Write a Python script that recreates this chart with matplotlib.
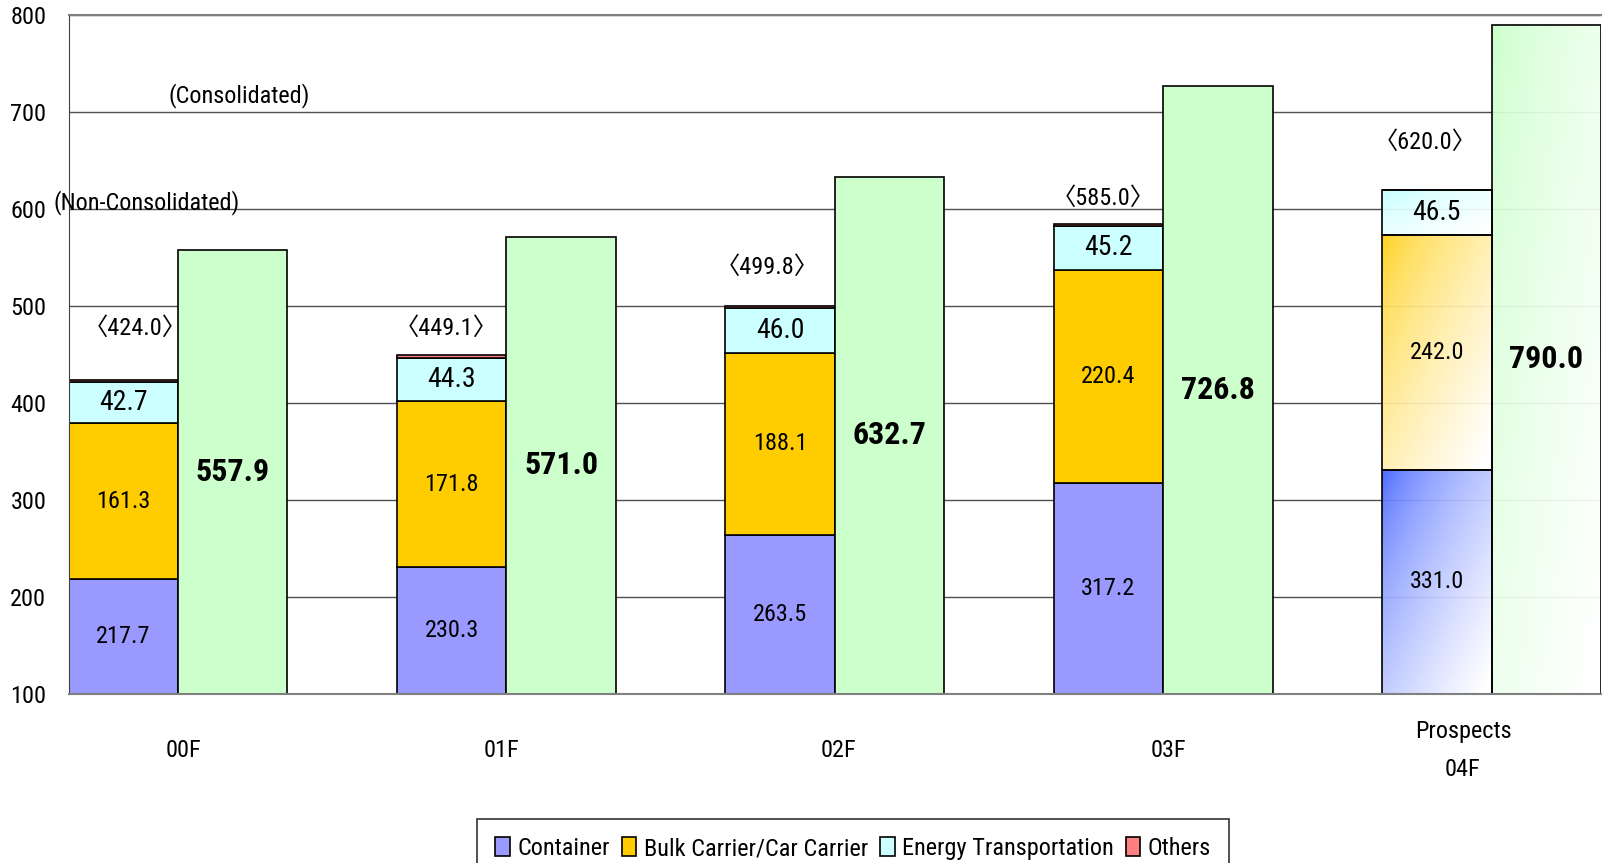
import matplotlib
matplotlib.use("Agg")
import matplotlib.pyplot as plt
import matplotlib.colors as mcolors
import numpy as np

plt.rcParams['font.family'] = ['Roboto Condensed', 'Liberation Sans', 'Noto Sans CJK JP', 'DejaVu Sans']

years = ["00F", "01F", "02F", "03F", "Prospects\n04F"]
container = [217.7, 230.3, 263.5, 317.2, 331.0]
bulk = [161.3, 171.8, 188.1, 220.4, 242.0]
energy = [42.7, 44.3, 46.0, 45.2, 46.5]
non_consol_total = [424.0, 449.1, 499.8, 585.0, 620.0]
consolidated = [557.9, 571.0, 632.7, 726.8, 790.0]
others = [t - (c + b + e) for t, c, b, e in zip(non_consol_total, container, bulk, energy)]

# nudges for the <total> labels and year labels (the original is a bit uneven)
total_lift = [53, 28, 40, 26, 49]
total_shift = [0.037, -0.016, -0.04, -0.016, -0.034]
year_shift = [0.016, -0.016, 0.012, 0.016, -0.087]

c_cont, c_bulk, c_energy, c_other, c_consol = '#9999FF', '#FFCC00', '#CCFFFF', '#FF8080', '#CCFFCC'
grad_cont, grad_bulk, grad_energy, grad_consol = '#3355FF', '#FFCC00', '#BBFFFF', '#C4FFC4'

ymin = 100
w = 1 / 3
x = np.arange(len(years))

W, H = 1604, 863
fig = plt.figure(figsize=(W / 100, H / 100), dpi=100)
ax = fig.add_axes([68.5 / W, 1 - 693.5 / H, (1601 - 68.5) / W, (693.5 - 15.3) / H])

ax.set_yticks(range(100, 801, 100))
ax.yaxis.grid(True, color='#505050', linewidth=1)
ax.set_axisbelow(True)

edge = dict(edgecolor='black', linewidth=1.2)
xs = x - w / 2
xc = x + w / 2
b1 = ax.bar(xs, container, w, color=c_cont, **edge)
bottom2 = np.array(container)
b2 = ax.bar(xs, bulk, w, bottom=bottom2, color=c_bulk, **edge)
bottom3 = bottom2 + np.array(bulk)
b3 = ax.bar(xs, energy, w, bottom=bottom3, color=c_energy, **edge)
bottom4 = bottom3 + np.array(energy)
b4 = ax.bar(xs, others, w, bottom=bottom4, color=c_other, **edge)
b5 = ax.bar(xc, consolidated, w, color=c_consol, **edge)


def gradient_fill(patch, color):
    # diagonal fade: coloured top-left -> white bottom-right
    x0, y0 = patch.get_x(), max(patch.get_y(), ymin)
    x1, y1 = x0 + patch.get_width(), patch.get_y() + patch.get_height()
    u = np.linspace(0, 1, 60)
    v = np.linspace(0, 1, 200)
    U, V = np.meshgrid(u, v)
    t = np.clip((U + (1 - V)) / 2 * 1.05, 0, 1) ** 0.6
    rgb = np.array(mcolors.to_rgb(color))
    img = rgb[None, None, :] * (1 - t[..., None]) + t[..., None]
    patch.set_facecolor('none')
    im = ax.imshow(img, extent=(x0, x1, y0, y1), origin='lower', aspect='auto',
                   zorder=patch.get_zorder() - 0.1, alpha=0.94)
    im.set_clip_path(patch)


last = len(years) - 1
gradient_fill(b1[last], grad_cont)
gradient_fill(b2[last], grad_bulk)
gradient_fill(b3[last], grad_energy)
gradient_fill(b5[last], grad_consol)
ax.set_xlim(-w, len(years) - 1 + w)
ax.set_ylim(ymin, 800)

for i in range(len(years)):
    ax.text(xs[i], (ymin + container[i]) / 2, f"{container[i]:.1f}", ha='center', va='center', fontsize=17.5)
    ax.text(xs[i], bottom2[i] + bulk[i] / 2, f"{bulk[i]:.1f}", ha='center', va='center', fontsize=17.5)
    ax.text(xs[i], bottom3[i] + energy[i] / 2, f"{energy[i]:.1f}", ha='center', va='center', fontsize=20)
    ax.text(xs[i] + total_shift[i], non_consol_total[i] + total_lift[i], f"〈{non_consol_total[i]:.1f}〉",
            ha='center', va='center', fontsize=17.5)
    ax.text(xc[i], (ymin + consolidated[i]) / 2, f"{consolidated[i]:.1f}", ha='center', va='center',
            fontsize=23, fontweight='bold')

ax.text(-0.028, 717, "(Consolidated)", ha='left', va='center', fontsize=17.5)
ax.text(-0.38, 607, "(Non-Consolidated)", ha='left', va='center', fontsize=17.5)

ax.set_xticks(x + np.array(year_shift))
ax.set_xticklabels(years, fontsize=17.5, linespacing=1.8)
for lab in ax.get_xticklabels():
    lab.set_va('center')
ax.tick_params(axis='x', length=0, pad=41)
ax.tick_params(axis='y', length=0, pad=16, labelsize=17.5)

ax.spines['right'].set_visible(False)
ax.spines['top'].set_color('#808080')
ax.spines['top'].set_linewidth(1.5)
ax.spines['bottom'].set_color('#808080')
ax.spines['bottom'].set_linewidth(1.5)
ax.spines['left'].set_color('#404040')

handles = [plt.Rectangle((0, 0), 1, 1, facecolor=c, edgecolor='black', linewidth=1.2)
           for c in (c_cont, c_bulk, c_energy, c_other)]
leg = fig.legend(handles, ["Container", "Bulk Carrier/Car Carrier", "Energy Transportation", "Others"],
                 loc='upper center', bbox_to_anchor=(853 / W, 1 - 819 / H), ncol=4,
                 fontsize=17.5, frameon=True, fancybox=False, edgecolor='black',
                 handlelength=0.6, handleheight=0.8, handletextpad=0.3, columnspacing=0.5,
                 borderaxespad=0, borderpad=0.75)
leg.get_frame().set_linewidth(1.2)

fig.savefig("out.png", dpi=100)
